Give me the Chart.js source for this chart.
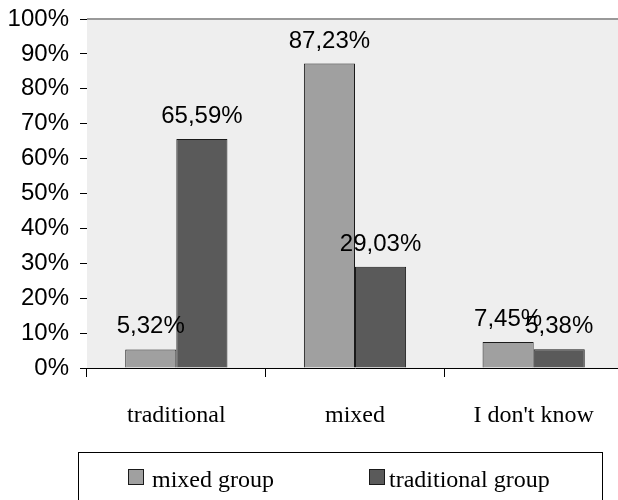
<!DOCTYPE html>
<html>
<head>
<meta charset="utf-8">
<script src="https://cdn.jsdelivr.net/npm/chart.js@4"></script>
<style>
  html, body { margin: 0; padding: 0; background: #fff; overflow: hidden; }
  #wrap { position: relative; width: 618px; height: 500px; overflow: hidden; }
  #box { position: absolute; left: 0; top: 0; width: 625px; height: 500px; }
</style>
</head>
<body>
<div id="wrap"><div id="box"><canvas id="c"></canvas></div></div>
<script>
// Answer categories and the share of each group choosing them (%)
const categories = ["traditional", "mixed", "I don't know"];
const mixedGroup = [5.32, 87.23, 7.45];
const traditionalGroup = [65.59, 29.03, 5.38];
const seriesNames = ["mixed group", "traditional group"];
const yTicks = [0, 10, 20, 30, 40, 50, 60, 70, 80, 90, 100];

const SANS = "'Liberation Sans', Arial, sans-serif";
const SERIF = "'Liberation Serif', 'Times New Roman', serif";

const fmt = v => v.toFixed(2).replace('.', ',') + '%';

// Grey plot background and grey top frame line
const plotFrame = {
  id: 'plotFrame',
  beforeDatasetsDraw(chart) {
    const { ctx, chartArea: a } = chart;
    ctx.save();
    ctx.fillStyle = '#eeeeee';
    ctx.fillRect(a.left, a.top, a.right - a.left, a.bottom - a.top);
    ctx.strokeStyle = '#999999';
    ctx.lineWidth = 2;
    ctx.beginPath();
    ctx.moveTo(a.left, a.top);
    ctx.lineTo(a.right, a.top);
    ctx.stroke();
    ctx.restore();
  }
};

// Value labels above every bar
const valueLabels = {
  id: 'valueLabels',
  afterDatasetsDraw(chart) {
    const { ctx } = chart;
    ctx.save();
    ctx.font = '24px ' + SANS;
    ctx.fillStyle = '#000';
    ctx.textAlign = 'center';
    ctx.textBaseline = 'alphabetic';
    chart.data.datasets.forEach((ds, i) => {
      chart.getDatasetMeta(i).data.forEach((bar, j) => {
        ctx.fillText(fmt(ds.data[j]), bar.x, bar.y - 16);
      });
    });
    ctx.restore();
  }
};

// Framed legend below the axis labels
const boxLegend = {
  id: 'boxLegend',
  afterDraw(chart) {
    const { ctx } = chart;
    const a = chart.chartArea;
    ctx.save();
    ctx.strokeStyle = '#000';
    ctx.lineWidth = 1;
    ctx.strokeRect(a.left - 8.5, 452.5, 524, 60);
    const items = [{ x: 128, tx: 152 }, { x: 369, tx: 389 }];
    ctx.font = '24px ' + SERIF;
    ctx.textBaseline = 'alphabetic';
    ctx.textAlign = 'left';
    chart.data.datasets.forEach((ds, i) => {
      const it = items[i];
      ctx.fillStyle = ds.backgroundColor;
      ctx.fillRect(it.x, 469, 16, 16);
      ctx.strokeStyle = '#1a1a1a';
      ctx.strokeRect(it.x + 0.5, 469.5, 15, 15);
      ctx.fillStyle = '#000';
      ctx.fillText(ds.label, it.tx, 487);
    });
    ctx.restore();
  }
};

new Chart(document.getElementById('c'), {
  type: 'bar',
  data: {
    labels: categories,
    datasets: [
      { label: seriesNames[0], data: mixedGroup, backgroundColor: '#a0a0a0',
        borderColor: '#1a1a1a', borderWidth: 1 },
      { label: seriesNames[1], data: traditionalGroup, backgroundColor: '#5a5a5a',
        borderColor: '#1a1a1a', borderWidth: 1 }
    ]
  },
  options: {
    responsive: true,
    maintainAspectRatio: false,
    animation: false,
    devicePixelRatio: 1,
    categoryPercentage: 0.572,
    barPercentage: 1,
    layout: { padding: { top: 19, right: 2, bottom: 0, left: 0 } },
    plugins: { legend: { display: false }, tooltip: { enabled: false } },
    scales: {
      x: {
        grid: { display: true, drawOnChartArea: false, offset: true,
                tickLength: 9, color: '#000', lineWidth: 1 },
        border: { display: true, color: '#000', width: 1 },
        ticks: { color: '#000', font: { family: SERIF, size: 24 }, padding: 24,
                 maxRotation: 0, autoSkip: false },
        afterFit(s) { s.height = 132; s.paddingLeft = 0; s.paddingRight = 0; }
      },
      y: {
        min: 0, max: 100,
        afterBuildTicks(s) { s.ticks = yTicks.map(v => ({ value: v })); },
        grid: { display: true, drawOnChartArea: false, tickLength: 7,
                color: '#000', lineWidth: 1 },
        border: { display: true, color: '#000', width: 1 },
        ticks: { color: '#000', font: { family: SANS, size: 24 }, padding: 11,
                 callback: v => v + '%' },
        afterFit(s) { s.width = 87; s.paddingTop = 0; s.paddingBottom = 0; }
      }
    }
  },
  plugins: [plotFrame, valueLabels, boxLegend]
});
</script>
</body>
</html>
